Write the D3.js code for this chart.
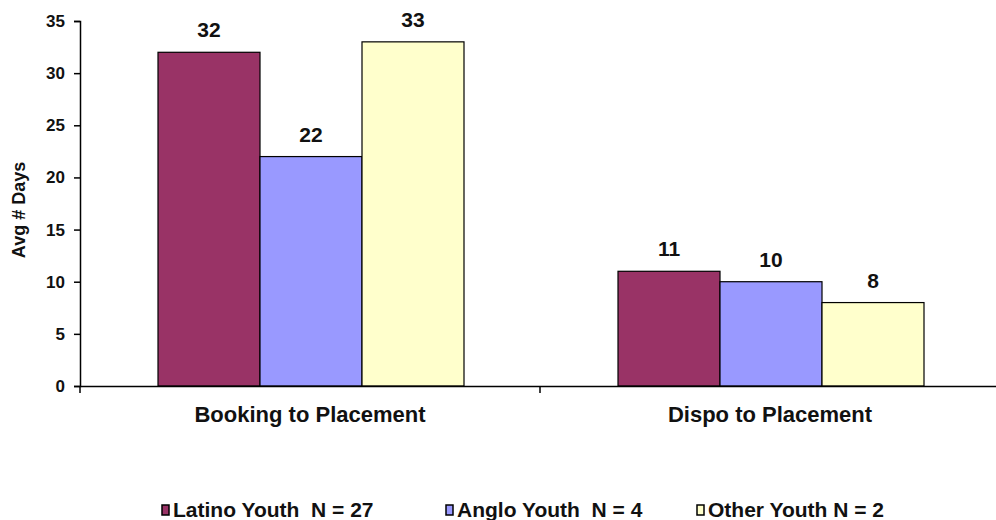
<!DOCTYPE html>
<html><head><meta charset="utf-8">
<script src="https://cdn.jsdelivr.net/npm/d3@7"></script>
<style>body{margin:0;background:#fff}svg{display:block}text{font-family:"Liberation Sans",Arial,sans-serif}</style>
</head><body>
<svg id="c" width="996" height="520"></svg>
<script>
const categories = ["Booking to Placement", "Dispo to Placement"];
const seriesNames = ["Latino Youth  N = 27", "Anglo Youth  N = 4", "Other Youth N = 2"];
const latino = [32, 11];
const anglo = [22, 10];
const other = [33, 8];
const yTicks = [0, 5, 10, 15, 20, 25, 30, 35];
const colors = ["#993366", "#9999FF", "#FFFFCC"];
const series = [latino, anglo, other];

const svg = d3.select("#c");
const mLeft = 80, mRight = 1000, mTop = 21, mBottom = 386;
const x = d3.scaleBand().domain(categories).range([mLeft, mRight]).paddingInner(0).paddingOuter(0);
const inner = d3.scaleBand().domain(d3.range(series.length)).range([78, x.bandwidth() - 76]).padding(0);
const y = d3.scaleLinear().domain([0, 35]).range([mBottom, mTop]);

// bars
categories.forEach((c, ci) => {
  series.forEach((s, si) => {
    const bx = x(c) + inner(si), bw = inner.bandwidth();
    svg.append("rect").attr("x", bx).attr("y", y(s[ci])).attr("width", bw)
      .attr("height", y(0) - y(s[ci])).attr("fill", colors[si])
      .attr("stroke", "#000").attr("stroke-width", 1.2);
    svg.append("text").attr("x", bx + bw / 2).attr("y", y(s[ci]) - 15)
      .attr("text-anchor", "middle").attr("font-size", 21).attr("font-weight", "bold")
      .attr("fill", "#111").text(s[ci]);
  });
});

// y axis
const ya = svg.append("g").attr("transform", `translate(${mLeft},0)`)
  .call(d3.axisLeft(y).tickValues(yTicks).tickSize(6).tickPadding(9));
ya.select(".domain").attr("stroke", "#000").attr("stroke-width", 1.5);
ya.selectAll(".tick line").attr("stroke", "#000").attr("stroke-width", 1.5);
ya.selectAll("text").attr("font-size", 17).attr("font-weight", "bold").attr("fill", "#111")
  .style("font-family", '"Liberation Sans",Arial,sans-serif');

// x axis
const xa = svg.append("g").attr("transform", `translate(0,${mBottom})`)
  .call(d3.axisBottom(x).tickSize(0).tickPadding(20));
xa.select(".domain").attr("stroke", "#000").attr("stroke-width", 1.5);
xa.selectAll("text").attr("font-size", 22).attr("font-weight", "bold").attr("fill", "#111")
  .attr("dy", null).attr("y", 36)
  .style("font-family", '"Liberation Sans",Arial,sans-serif');
// separators
[mLeft, x(categories[1]), mRight].forEach(v => {
  svg.append("line").attr("x1", v).attr("x2", v).attr("y1", mBottom).attr("y2", mBottom + 7)
    .attr("stroke", "#000").attr("stroke-width", 1.5);
});

// y label
svg.append("text").attr("transform", `translate(25,210) rotate(-90)`)
  .attr("text-anchor", "middle").attr("font-size", 18).attr("font-weight", "bold")
  .attr("fill", "#111").text("Avg # Days");

// legend
const legX = [162, 446, 697];
seriesNames.forEach((n, i) => {
  svg.append("rect").attr("x", legX[i]).attr("y", 505).attr("width", 7).attr("height", 10)
    .attr("fill", colors[i]).attr("stroke", "#000").attr("stroke-width", 1.5);
  svg.append("text").attr("x", legX[i] + 11).attr("y", 517).attr("font-size", 21).attr("font-weight", "bold")
    .attr("fill", "#111")
    .attr("xml:space", "preserve").style("white-space", "pre").text(n);
});
</script>
</body></html>
